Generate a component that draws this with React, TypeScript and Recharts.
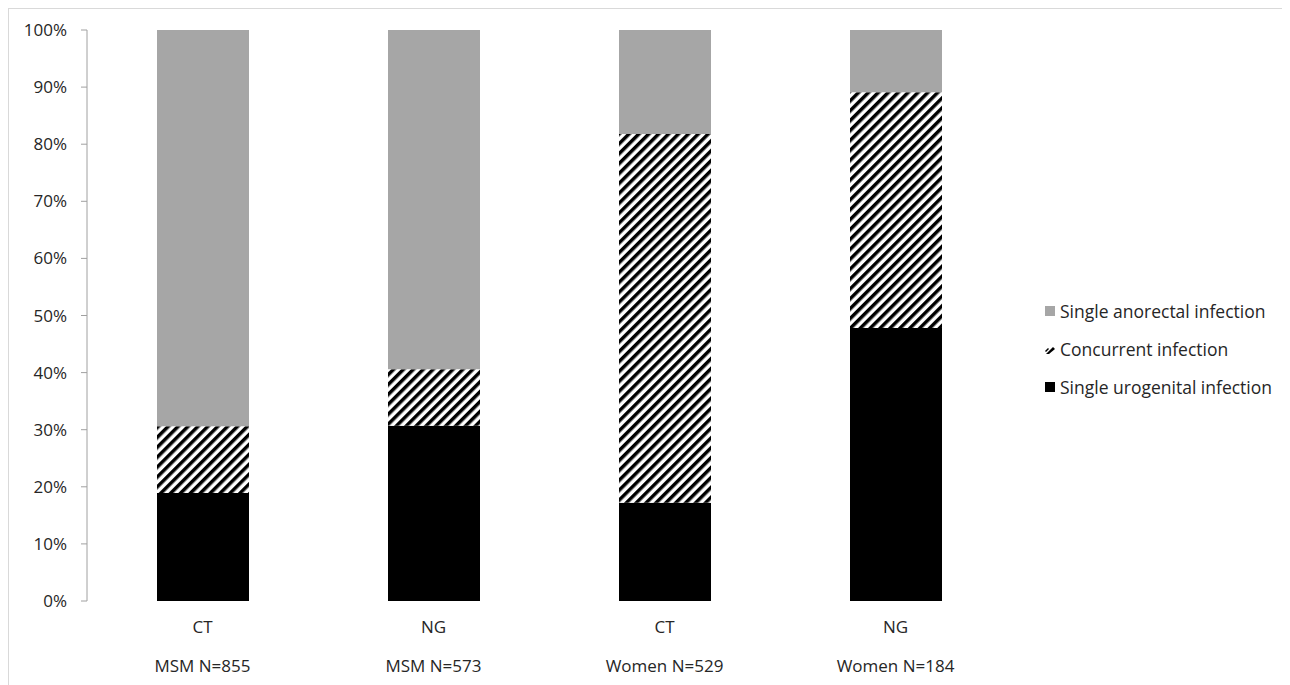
import { BarChart, Bar, XAxis, YAxis } from 'recharts';

const categories = ['CT', 'NG', 'CT', 'NG'];
const groups = ['MSM N=855', 'MSM N=573', 'Women N=529', 'Women N=184'];
const urogenital = [18.9, 30.7, 17.2, 47.8];
const concurrent = [11.7, 9.9, 64.6, 41.3];
const anorectal = [69.4, 59.4, 18.2, 10.9];
const yTicks = [0, 10, 20, 30, 40, 50, 60, 70, 80, 90, 100];

const seriesNames = {
  anorectal: 'Single anorectal infection',
  concurrent: 'Concurrent infection',
  urogenital: 'Single urogenital infection',
};

const data = categories.map((c, i) => ({
  key: `${c}-${i}`,
  category: c,
  group: groups[i],
  urogenital: urogenital[i],
  concurrent: concurrent[i],
  anorectal: anorectal[i],
}));

const FONT = "'Open Sans', 'Noto Sans', sans-serif";
const TEXT = '#262626';
const FS = 17;

function XTick({ x, y, index }: any) {
  return (
    <g>
      <text x={x} y={y + 24} textAnchor="middle" fontSize={FS} fill={TEXT} fontFamily={FONT}>
        {categories[index]}
      </text>
      <text x={x} y={y + 63} textAnchor="middle" fontSize={FS} fill={TEXT} fontFamily={FONT}>
        {groups[index]}
      </text>
    </g>
  );
}

function LegendBox() {
  const rows = [
    { name: seriesNames.anorectal, icon: <rect x={0} y={0} width={10} height={10} fill="#a6a6a6" /> },
    {
      name: seriesNames.concurrent,
      icon: (
        <g>
          <polygon points="1,10 8,3 10,5 4,10" fill="#000" />
          <polygon points="0,7 3,4 4,5 1,8" fill="#000" />
        </g>
      ),
    },
    { name: seriesNames.urogenital, icon: <rect x={0} y={0} width={10} height={10} fill="#000" /> },
  ];
  return (
    <div
      style={{
        position: 'absolute',
        left: 1036,
        top: 283,
        fontFamily: FONT,
        fontSize: 17.5,
        color: TEXT,
      }}
    >
      {rows.map((r) => (
        <div key={r.name} style={{ display: 'flex', alignItems: 'center', height: 38, whiteSpace: 'nowrap' }}>
          <svg width={10} height={10} style={{ marginRight: 5 }}>
            {r.icon}
          </svg>
          <span>{r.name}</span>
        </div>
      ))}
    </div>
  );
}

export default function App() {
  return (
    <div
      style={{
        position: 'relative',
        width: 1281,
        height: 676,
        borderTop: '1px solid #d9d9d9',
        borderLeft: '1px solid #d9d9d9',
        background: '#fff',
      }}
    >
      <style>{'html, body { overflow: hidden; }'}</style>
      <BarChart
        width={1280}
        height={675}
        data={data}
        margin={{ top: 21, right: 278, bottom: 0, left: 0 }}
        barSize={92}
      >
        <defs>
          <pattern
            id="hatch"
            patternUnits="userSpaceOnUse"
            width={7}
            height={7}
            patternTransform="rotate(45)"
          >
            <rect x={0} y={0} width={7} height={7} fill="#fff" />
            <rect x={0} y={0} width={3.5} height={7} fill="#000" />
          </pattern>
        </defs>
        <XAxis
          dataKey="key"
          axisLine={false}
          tickLine={false}
          height={83}
          interval={0}
          tick={<XTick />}
        />
        <YAxis
          width={78}
          domain={[0, 100]}
          ticks={yTicks}
          tickFormatter={(v: number) => `${v}%`}
          axisLine={{ stroke: '#a0a0a0' }}
          tickLine={{ stroke: '#a0a0a0' }}
          tickSize={6}
          tickMargin={14}
          tick={{ fontSize: FS, fill: TEXT, fontFamily: FONT }}
          interval={0}
        />
        <Bar dataKey="urogenital" stackId="a" fill="#000" isAnimationActive={false} />
        <Bar dataKey="concurrent" stackId="a" fill="url(#hatch)" isAnimationActive={false} />
        <Bar dataKey="anorectal" stackId="a" fill="#a6a6a6" isAnimationActive={false} />
      </BarChart>
      <LegendBox />
    </div>
  );
}
